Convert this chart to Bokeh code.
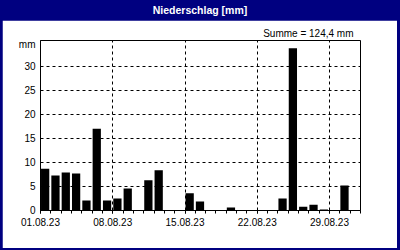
from bokeh.plotting import figure
from bokeh.models import FixedTicker, Range1d, Div
from bokeh.layouts import column
from bokeh.embed import file_html
from bokeh.resources import INLINE

# ---- data ----
days = list(range(1, 32))  # 1..31 August 2023
precip = [8.7, 7.3, 7.9, 7.7, 2.1, 17.0, 2.1, 2.5, 4.6, 0.0,
          6.3, 8.4, 0.0, 0.0, 3.6, 1.9, 0.0, 0.0, 0.6, 0.0,
          0.0, 0.0, 0.0, 2.5, 33.8, 0.8, 1.2, 0.2, 0.0, 5.2, 0.0]
tick_days = [0, 7, 14, 21, 28]
tick_labels = ["01.08.23", "08.08.23", "15.08.23", "22.08.23", "29.08.23"]
y_ticks = [0, 5, 10, 15, 20, 25, 30]
unit_pos = 34.5
title_text = "Niederschlag [mm]"
sum_text = "Summe = 124,4 mm"
unit_text = "mm"

NAVY = "#000080"
FONT = "Liberation Sans"

p = figure(width=395, height=228, output_backend="svg", toolbar_location=None,
           x_range=Range1d(0, 31), y_range=Range1d(0, 35.4),
           min_border_left=38, min_border_right=37,
           min_border_top=20, min_border_bottom=38,
           margin=(0, 3, 2, 2))
p.background_fill_color = "white"
p.border_fill_color = "white"
p.outline_line_color = "black"
p.outline_line_width = 1

p.title.text = sum_text
p.title.align = "right"
p.title.offset = 7
p.title.standoff = 4
p.title.text_font = FONT
p.title.text_font_size = "10px"
p.title.text_font_style = "normal"
p.title.text_color = "black"

xs = [d - 1 + 0.45 for d in days]
p.vbar(x=xs, top=precip, width=0.8, bottom=0, fill_color="black", line_color=None)

# axes
p.xaxis.ticker = FixedTicker(ticks=tick_days, minor_ticks=list(range(0, 32)))
p.xaxis.major_label_overrides = {t: l for t, l in zip(tick_days, tick_labels)}
p.xaxis.major_tick_in = 0
p.xaxis.major_tick_out = 3
p.xaxis.minor_tick_in = 0
p.xaxis.minor_tick_out = 3
p.xaxis.major_label_standoff = 4
p.yaxis.ticker = FixedTicker(ticks=y_ticks + [unit_pos])
p.yaxis.major_label_overrides = {unit_pos: unit_text}
p.yaxis.major_tick_in = 0
p.yaxis.major_tick_out = 0
p.yaxis.minor_tick_in = 0
p.yaxis.minor_tick_out = 0
p.yaxis.major_label_standoff = 5
for ax in (p.xaxis, p.yaxis):
    ax.axis_line_color = "black"
    ax.major_tick_line_color = "black"
    ax.minor_tick_line_color = "black"
    ax.major_label_text_font = FONT
    ax.major_label_text_font_size = "10px"
    ax.major_label_text_color = "black"

p.xgrid.ticker = FixedTicker(ticks=tick_days)
p.ygrid.ticker = FixedTicker(ticks=y_ticks)
for g in (p.xgrid, p.ygrid):
    g.grid_line_color = "black"
    g.grid_line_dash = "3 3"
    g.grid_line_width = 1

header = Div(text=title_text, width=400, height=20, margin=(0, 0, 0, 0),
             styles={"background-color": NAVY, "color": "white",
                     "font-family": FONT, "font-weight": "bold",
                     "font-size": "10.5px", "text-align": "center",
                     "line-height": "20px"})

layout = column(header, p, width=400, height=250, spacing=0, margin=(0, 0, 0, 0),
                styles={"background-color": NAVY})

open("out.html", "w").write(file_html(layout, INLINE))
